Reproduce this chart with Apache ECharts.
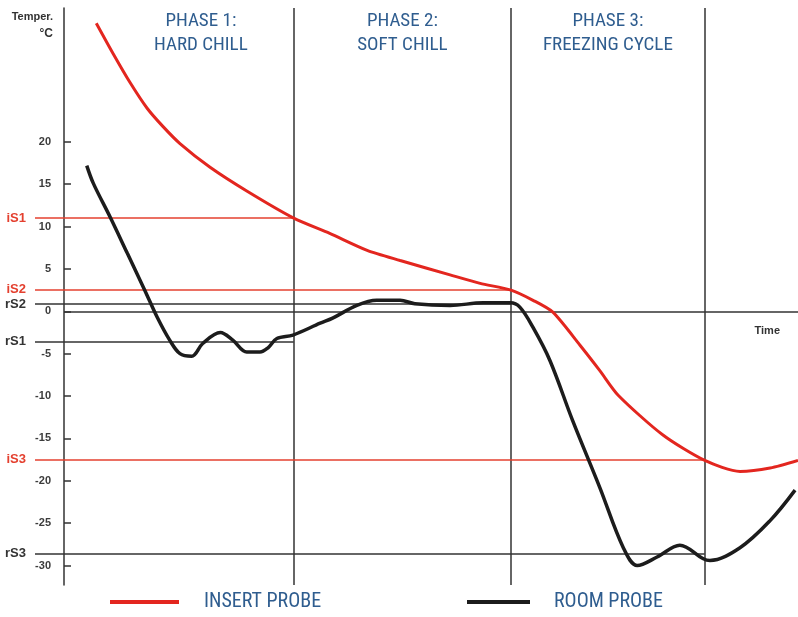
<!DOCTYPE html>
<html>
<head>
<meta charset="utf-8">
<title>Blast chiller phases</title>
<script src="https://cdn.jsdelivr.net/npm/echarts@6/dist/echarts.min.js"></script>
<style>
  html, body { margin: 0; padding: 0; background: #fff; }
  #chart { width: 798px; height: 617px; }
</style>
</head>
<body>
<div id="chart"></div>
<script>
// insert probe (red) - time in arbitrary units, temperature in °C
var insertTime = [4.4, 6.7, 9.0, 11.3, 13.5, 15.8, 19.9, 24.9, 31.3, 36.2, 41.3, 45.8, 52.6, 56.7, 60.9, 63.9, 66.6, 70.3, 73.0, 75.5, 81.6, 87.3, 92.1, 96.2, 100];
var insertTemp = [34.0, 30.4, 27.0, 24.0, 21.8, 19.8, 17.0, 14.2, 11.0, 9.2, 7.2, 6.0, 4.3, 3.3, 2.5, 1.3, -0.1, -4.0, -7.0, -9.9, -14.6, -17.6, -18.9, -18.5, -17.6];
// room probe (black)
var roomTime = [3.1, 4.0, 6.3, 8.6, 11.0, 12.7, 14.4, 15.8, 17.4, 18.9, 21.3, 23.0, 24.9, 26.7, 27.8, 29.0, 31.2, 34.9, 36.6, 39.9, 42.6, 45.8, 47.8, 52.6, 57.1, 60.8, 62.1, 63.9, 66.2, 69.3, 73.0, 76.2, 78.1, 80.8, 83.9, 87.1, 88.0, 92.1, 96.2, 99.6];
var roomTemp = [17.2, 15.1, 11.1, 6.9, 2.5, -0.7, -3.4, -5.0, -5.3, -3.8, -2.5, -3.4, -4.8, -4.8, -4.3, -3.2, -2.8, -1.4, -0.8, 0.7, 1.3, 1.3, 0.9, 0.7, 1.0, 1.0, 0.5, -1.9, -5.8, -12.9, -20.8, -27.9, -30.0, -29.0, -27.6, -29.2, -29.4, -27.9, -24.7, -21.1];

// set points
var insertSetNames = ['iS1', 'iS2', 'iS3'];
var insertSetValues = [11.0, 2.6, -17.5];
var insertSetEnds = [31.3, 60.9, 87.3];
var roomSetNames = ['rS2', 'rS1', 'rS3'];
var roomSetValues = [0.85, -3.55, -28.6];
var roomSetEnds = [60.9, 31.3, 87.3];

// phases
var phaseLines = [31.3, 60.9, 87.3];
var phaseStarts = [6, 31.3, 60.9];
var phaseTitles = ['PHASE 1:\nHARD CHILL', 'PHASE 2:\nSOFT CHILL', 'PHASE 3:\nFREEZING CYCLE'];

var yTicks = [20, 15, 10, 5, 0, -5, -10, -15, -20, -25, -30];

var xMin = -3.95, xMax = 100;
var yMin = -32.3, yMax = 35.8;

var narrow = "'Liberation Sans Narrow', 'Roboto Condensed', 'DejaVu Sans Condensed', sans-serif";
var blue = '#2f5d8f';
var red = '#e3261f';
var dark = '#1c1c1c';

function pairs(xs, ys) {
    var out = [];
    for (var i = 0; i < xs.length; i++) out.push([xs[i], ys[i]]);
    return out;
}

function setLines(names, values, ends, color) {
    var list = [];
    for (var i = 0; i < names.length; i++) {
        list.push([
            { coord: [xMin, values[i]], label: { show: true, formatter: names[i] } },
            { coord: [ends[i], values[i]] }
        ]);
    }
    return {
        silent: true,
        symbol: 'none',
        z: 1,
        lineStyle: { color: color, width: 1.5, type: 'solid' },
        label: {
            position: 'start', distance: 9,
            color: color, fontWeight: 'bold', fontSize: 13,
            fontFamily: 'Liberation Sans, Arial, sans-serif'
        },
        data: list
    };
}

var roomMarks = setLines(roomSetNames, roomSetValues, roomSetEnds, '#333');
// zero line and phase separators
roomMarks.data.push([{ coord: [0, 0], label: { show: false } }, { coord: [xMax, 0] }]);
for (var k = 0; k < phaseLines.length; k++) {
    roomMarks.data.push([{ coord: [phaseLines[k], yMax], label: { show: false } }, { coord: [phaseLines[k], yMin] }]);
}

var areas = [];
for (var p = 0; p < phaseTitles.length; p++) {
    areas.push([{ xAxis: phaseStarts[p], name: phaseTitles[p] }, { xAxis: phaseLines[p] }]);
}

var myChart = echarts.init(document.getElementById('chart'));
var option = {
    animation: false,
    backgroundColor: '#fff',
    grid: { left: 35, right: 0, top: 8, bottom: 32 },
    xAxis: {
        type: 'value', min: xMin, max: xMax,
        axisLine: { show: false },
        axisTick: { show: false },
        axisLabel: { show: false },
        splitLine: { show: false }
    },
    yAxis: {
        type: 'value', min: yMin, max: yMax,
        axisLine: { show: true, onZero: true, lineStyle: { color: '#333', width: 1.5 } },
        axisTick: { show: true, inside: true, length: 7, customValues: yTicks, lineStyle: { color: '#333', width: 1.5 } },
        axisLabel: {
            customValues: yTicks, margin: -16,
            color: '#3c3c3c', fontWeight: 'bold', fontSize: 11,
            fontFamily: 'Liberation Sans, Arial, sans-serif'
        },
        splitLine: { show: false }
    },
    legend: [
        {
            data: ['INSERT PROBE'], left: 110, top: 592, padding: 0, icon: 'rect',
            itemWidth: 69, itemHeight: 4, selectedMode: false,
            textStyle: { color: blue, fontSize: 20, fontFamily: narrow, padding: [0, 0, 0, 20] }
        },
        {
            data: ['ROOM PROBE'], left: 467, top: 592, padding: 0, icon: 'rect',
            itemWidth: 63, itemHeight: 4, selectedMode: false,
            textStyle: { color: blue, fontSize: 20, fontFamily: narrow, padding: [0, 0, 0, 19] }
        }
    ],
    graphic: [
        { type: 'text', style: { text: 'Temper.', x: 53, y: 17, align: 'right', verticalAlign: 'middle', fill: '#333', font: 'bold 11px Liberation Sans, Arial, sans-serif' } },
        { type: 'text', style: { text: '°C', x: 53, y: 34, align: 'right', verticalAlign: 'middle', fill: '#333', font: 'bold 12px Liberation Sans, Arial, sans-serif' } },
        { type: 'text', style: { text: 'Time', x: 780, y: 331, align: 'right', verticalAlign: 'middle', fill: '#333', font: 'bold 11px Liberation Sans, Arial, sans-serif' } }
    ],
    series: [
        {
            name: 'ROOM PROBE',
            type: 'line',
            z: 10,
            smooth: 0.35,
            symbol: 'none',
            color: dark,
            lineStyle: { color: dark, width: 3.5 },
            data: pairs(roomTime, roomTemp),
            markLine: roomMarks,
            markArea: {
                silent: true,
                itemStyle: { color: 'rgba(0,0,0,0)' },
                label: {
                    show: true, position: 'insideTop', distance: 1,
                    color: blue, fontSize: 19, lineHeight: 24, fontFamily: narrow, align: 'center'
                },
                data: areas
            }
        },
        {
            name: 'INSERT PROBE',
            type: 'line',
            z: 11,
            smooth: 0.25,
            symbol: 'none',
            color: red,
            lineStyle: { color: red, width: 3 },
            data: pairs(insertTime, insertTemp),
            markLine: setLines(insertSetNames, insertSetValues, insertSetEnds, '#e4402f')
        }
    ]
};
myChart.setOption(option);
window.addEventListener('resize', function () {
    myChart.resize();
});
</script>
</body>
</html>
